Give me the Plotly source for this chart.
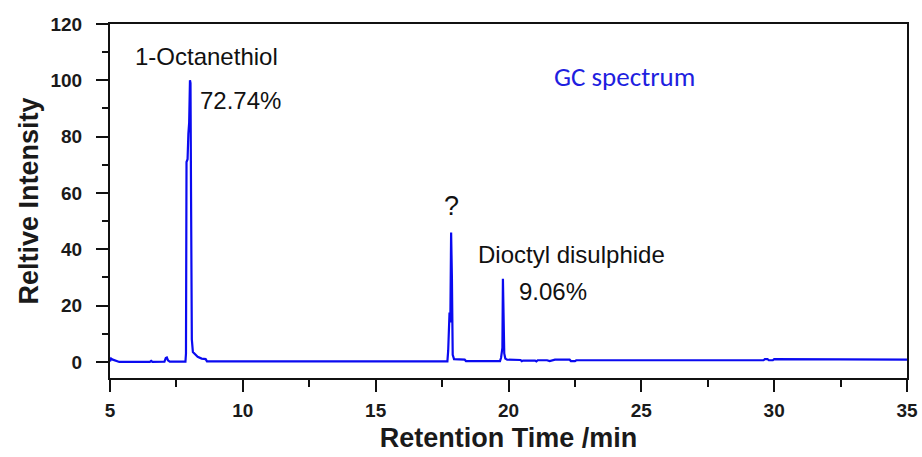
import plotly.graph_objects as go

# Chromatogram trace: retention time (min) and relative intensity
retention_time = [5.0, 5.04, 5.08, 5.15, 5.25, 5.35, 6.5, 6.55, 6.6, 7.05, 7.1, 7.14, 7.18, 7.25, 7.84,
                  7.86, 7.88, 7.92, 7.95, 7.98, 8.01, 8.03, 8.05, 8.08, 8.12, 8.2, 8.3, 8.45, 8.6, 8.65,
                  12.0, 17.0, 17.7, 17.73, 17.76, 17.78, 17.81, 17.84, 17.87, 17.9, 17.95, 18.05,
                  18.35, 18.4, 19.68, 19.72, 19.75, 19.77, 19.79, 19.81, 19.84, 19.88, 19.95, 20.45,
                  20.5, 20.55, 21.0, 21.05, 21.1, 21.3, 21.45, 21.55, 21.7, 21.75, 22.3, 22.35, 22.5,
                  22.55, 22.7, 22.75, 29.6, 29.65, 29.75, 29.8, 29.95, 30.0, 30.1, 30.15, 35.0]
intensity = [0.2, 1.2, 0.9, 0.6, 0.2, 0.0, 0.0, 0.4, 0.0, 0.1, 1.4, 1.6, 0.6, 0.1, 0.1,
             3.0, 71.0, 72.0, 81.0, 85.0, 100.0, 99.0, 60.0, 8.0, 3.5, 2.8, 1.8, 1.2, 1.0, 0.2,
             0.2, 0.2, 0.2, 4.0, 17.0, 17.5, 14.0, 46.0, 30.0, 2.5, 1.0, 0.9,
             0.8, 0.3, 0.3, 1.5, 4.3, 5.0, 29.5, 22.0, 3.0, 1.2, 0.8, 0.7,
             0.3, 0.5, 0.5, 0.2, 0.6, 0.6, 0.6, 0.3, 0.6, 0.8, 0.8, 0.3, 0.3,
             0.6, 0.6, 0.6, 0.6, 1.0, 1.0, 0.6, 0.6, 1.0, 1.0, 0.8, 0.8]

# Peak labels: (x, y, text, size, color, family)
ARIAL = "Arial, Liberation Sans"
peak_labels = [
    (8.63, 108.3, "1-Octanethiol", 24, "#111111", ARIAL),
    (9.93, 92.9, "72.74%", 24, "#111111", ARIAL),
    (17.87, 55.2, "?", 27, "#111111", ARIAL),
    (22.39, 38.1, "Dioctyl disulphide", 24, "#111111", ARIAL),
    (21.67, 24.9, "9.06%", 24, "#111111", ARIAL),
    (24.38, 101.5, "GC spectrum", 27, "#1f1fe0", "Carlito, Calibri, Open Sans"),
]

fig = go.Figure()
fig.add_trace(go.Scatter(
    x=retention_time, y=intensity, mode="lines",
    line=dict(color="#0a0af0", width=2.2), showlegend=False, hoverinfo="skip",
))

for x, y, text, size, color, family in peak_labels:
    fig.add_annotation(x=x, y=y, text=text, showarrow=False, xref="x", yref="y",
                       font=dict(size=size, color=color, family=family))

axis_font = dict(family=ARIAL, size=19, color="#1a1a1a", weight="bold")

fig.update_layout(
    template="none",
    width=922, height=457,
    margin=dict(l=110, r=15, t=24, b=79),
    paper_bgcolor="white", plot_bgcolor="white",
    xaxis=dict(
        automargin=False,
        range=[5, 35], dtick=5, tick0=5, showgrid=False, zeroline=False,
        showline=True, linecolor="#111111", linewidth=2, mirror=True,
        ticks="outside", ticklen=12, tickwidth=2, tickcolor="#111111",
        minor=dict(dtick=2.5, ticks="outside", ticklen=7, tickwidth=2, tickcolor="#111111"),
        tickfont=axis_font, ticklabelstandoff=2,
        title=dict(text="Retention Time /min", standoff=8,
                   font=dict(family=ARIAL, size=27, color="#1a1a1a", weight="bold")),
    ),
    yaxis=dict(
        automargin=False,
        range=[-5.7, 120], dtick=20, tick0=0, showgrid=False, zeroline=False,
        showline=True, linecolor="#111111", linewidth=2, mirror=True,
        ticks="outside", ticklen=12, tickwidth=2, tickcolor="#111111",
        minor=dict(dtick=10, ticks="outside", ticklen=6, tickwidth=2, tickcolor="#111111"),
        tickfont=axis_font, ticklabelstandoff=10,
        title=dict(text="Reltive Intensity", standoff=4,
                   font=dict(family=ARIAL, size=27, color="#1a1a1a", weight="bold")),
    ),
)

fig.write_html("out.html")
